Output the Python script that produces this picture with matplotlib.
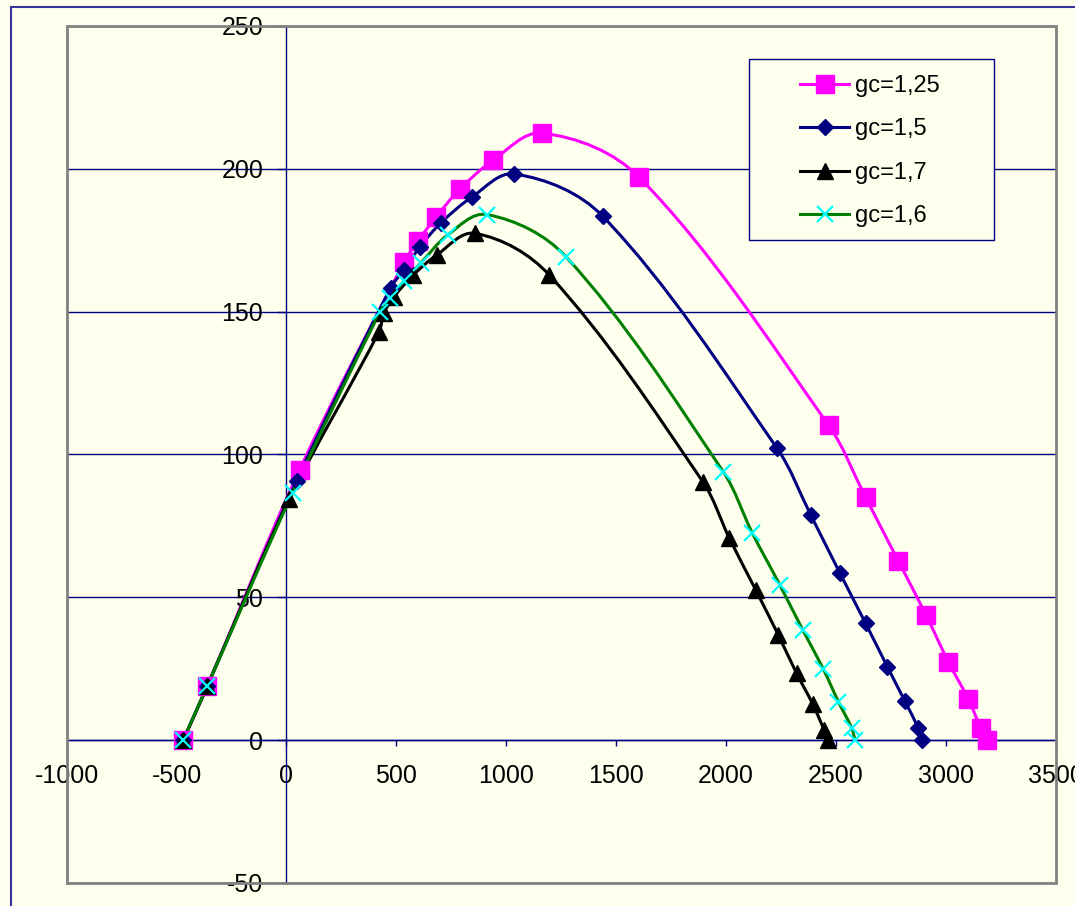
import matplotlib
matplotlib.use('Agg')
import matplotlib.pyplot as plt
from matplotlib.path import Path
from matplotlib.patches import PathPatch, Rectangle
from matplotlib.lines import Line2D
import numpy as np

plt.rcParams['font.family'] = ['Liberation Sans', 'DejaVu Sans']

# ---------------- data ----------------
labels = ['gc=1,25', 'gc=1,5', 'gc=1,7', 'gc=1,6']

x_125 = [-470, -360, 60, 535, 598, 680, 789, 940, 1163, 1604, 2467, 2635, 2784, 2910, 3011, 3102, 3160, 3189]
y_125 = [0, 19, 94.7, 167.3, 174.7, 183.1, 192.9, 203, 212.5, 197.1, 110.2, 85, 62.7, 43.8, 27.5, 14.4, 4.2, 0]

x_150 = [-470, -360, 46, 474, 535, 607, 703, 845, 1037, 1439, 2232, 2385, 2518, 2635, 2734, 2814, 2875, 2893]
y_150 = [0, 19, 90.8, 158.4, 164.6, 172.7, 181.1, 190.2, 198.2, 183.4, 102.2, 78.9, 58.5, 40.9, 25.7, 13.6, 4.2, 0]

x_170 = [-470, -360, 13, 421, 444, 489, 577, 683, 858, 1196, 1894, 2015, 2135, 2238, 2321, 2394, 2446, 2465]
y_170 = [0, 19, 84.4, 143, 149.6, 155.2, 162.8, 169.8, 177.4, 162.8, 90.5, 70.7, 52.6, 36.8, 23.4, 12.7, 3.6, 0]

x_160 = [-470, -360, 28, 426, 471, 535, 612, 733, 911, 1272, 1987, 2119, 2245, 2349, 2442, 2511, 2572, 2587]
y_160 = [0, 19, 86.6, 150, 154.8, 160.7, 167.1, 176.8, 184, 169.2, 94, 72.6, 54.3, 38.6, 25, 13.5, 4.2, 0]

x_ticks = [-1000, -500, 0, 500, 1000, 1500, 2000, 2500, 3000, 3500]
y_ticks = [-50, 0, 50, 100, 150, 200, 250]

# ---------------- styles ----------------
BG = '#FFFFEE'
NAVY = '#000080'
W, H = 1075, 906

styles = [
    dict(line='#FF00FF', marker='s', mfc='#FF00FF', mec='#FF00FF', ms=12.5, mew=1),
    dict(line='#000080', marker='D', mfc='#000080', mec='#000080', ms=8.5, mew=1),
    dict(line='#000000', marker='^', mfc='#000000', mec='#000000', ms=12, mew=1),
    dict(line='#008000', marker='x', mfc='#00FFFF', mec='#00FFFF', ms=12, mew=1.6),
]
series = [(x_125, y_125), (x_150, y_150), (x_170, y_170), (x_160, y_160)]

fig = plt.figure(figsize=(W / 100, H / 100), dpi=100, facecolor=BG)
ax = fig.add_axes([66.7 / W, 1 - 883 / H, 989 / W, 857 / H])
ax.set_facecolor(BG)
ax.set_xlim(-1000, 3500)
ax.set_ylim(-50, 250)


def smooth_path(xs, ys):
    """Smoothed (Bezier) line through the data points, tangents built in screen space."""
    pts = ax.transData.transform(np.column_stack([xs, ys]).astype(float))
    n = len(pts)
    tang = []
    for i in range(n):
        a = pts[i - 1] if i > 0 else pts[i]
        b = pts[i + 1] if i < n - 1 else pts[i]
        d = b - a
        L = np.hypot(*d)
        tang.append(d / L if L > 0 else d)
    verts = [pts[0]]
    codes = [Path.MOVETO]
    for i in range(n - 1):
        p1, p2 = pts[i], pts[i + 1]
        seg = np.hypot(*(p2 - p1)) / 3.0
        verts += [p1 + tang[i] * seg, p2 - tang[i + 1] * seg, p2]
        codes += [Path.CURVE4] * 3
    inv = ax.transData.inverted()
    return Path(inv.transform(np.array(verts)), codes)


ax.set_xticks(x_ticks)
ax.set_yticks(y_ticks)
ax.set_xticklabels([str(v) for v in x_ticks])
ax.set_yticklabels([str(v) for v in y_ticks])

ax.yaxis.grid(True, color=NAVY, lw=1)
ax.xaxis.grid(False)
ax.set_axisbelow(True)

for s in ['top', 'right']:
    ax.spines[s].set_visible(False)
ax.spines['left'].set_position(('data', 0))
ax.spines['bottom'].set_position(('data', 0))
for s in ['left', 'bottom']:
    ax.spines[s].set_color(NAVY)
    ax.spines[s].set_linewidth(1)
    ax.spines[s].set_zorder(1.5)

ax.tick_params(axis='y', direction='out', length=6.2, width=1, color=NAVY,
               pad=10.5, labelsize=18, labelcolor='black')
ax.tick_params(axis='x', direction='out', length=4.3, width=1, color=NAVY,
               pad=13, labelsize=18, labelcolor='black')

# plot-area border
ax.add_patch(Rectangle((0, 0), 1, 1, transform=ax.transAxes, fill=False,
                       ec='#808080', lw=2, clip_on=False, zorder=20))

handles = []
for (xs, ys), st, lab in zip(series, styles, labels):
    ax.add_patch(PathPatch(smooth_path(xs, ys), fill=False, ec=st['line'], lw=2.2,
                           capstyle='round', joinstyle='round', zorder=3))
    ax.plot(xs, ys, linestyle='none', marker=st['marker'], ms=st['ms'],
            mfc=st['mfc'], mec=st['mec'], mew=st['mew'], zorder=4, clip_on=False)
    handles.append(Line2D([], [], color=st['line'], lw=2.2, marker=st['marker'],
                          ms=st['ms'], mfc=st['mfc'], mec=st['mec'], mew=st['mew']))

# legend frame
lx0, ly0, lx1, ly1 = 749.3, 59.3, 994.3, 240.0
ax.add_patch(Rectangle(((lx0 - 66.7) / 989, (883 - ly1) / 857),
                       (lx1 - lx0) / 989, (ly1 - ly0) / 857,
                       transform=ax.transAxes, fc=BG, ec=NAVY, lw=1, zorder=6))
leg = ax.legend(handles, labels, loc='upper left', frameon=False,
                bbox_to_anchor=((800 - 66.7) / 989, (883 - 75) / 857),
                borderpad=0, borderaxespad=0, handlelength=2.08,
                handletextpad=0.25, labelspacing=0.91, fontsize=17)
leg.set_zorder(7)

# outer chart border
fig.add_artist(Rectangle((10.7 / W, -0.1), 2, (H - 6.7) / H + 0.1,
                         transform=fig.transFigure, fill=False, ec='#333399', lw=1.5))

fig.savefig('out.png', dpi=100, facecolor=BG)
